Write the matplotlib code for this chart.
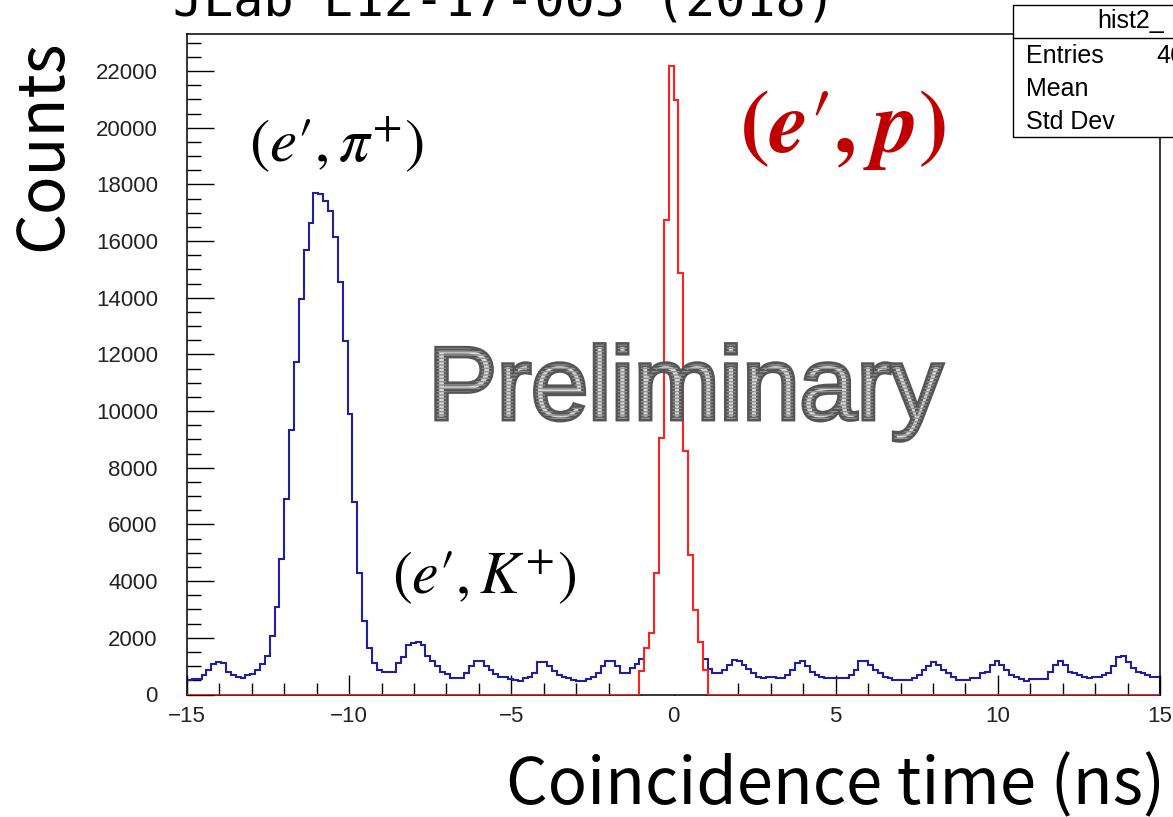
import numpy as np
import matplotlib
matplotlib.use('Agg')
import matplotlib.pyplot as plt
from matplotlib import patheffects as pe
from matplotlib.patches import Rectangle
from matplotlib.lines import Line2D

# binning of the coincidence time histogram (ns)
t_min, t_max, n_bins = -15.0, 15.0, 200

# blue: all coincidences, counts per bin
blue_counts = [
    520, 530, 560, 680, 850, 1070, 1150, 1100, 780, 700,
    620, 590, 700, 720, 850, 1060, 1350, 2060, 3090, 4770,
    6900, 9350, 11740, 13970, 15670, 16650, 17710, 17650, 17410, 17080,
    16150, 14560, 12470, 9900, 6790, 4300, 2590, 1650, 1120, 880,
    810, 810, 810, 1100, 1320, 1760, 1820, 1860, 1730, 1370,
    1165, 990, 810, 715, 570, 570, 570, 770, 990, 1190,
    1190, 1010, 870, 715, 630, 600, 535, 510, 490, 570,
    630, 770, 1130, 1130, 1010, 845, 690, 630, 570, 510,
    490, 490, 535, 630, 770, 1010, 1165, 1165, 990, 760,
    760, 920, 1090, 1240, 1300, 1350, 1400, 1400, 1400, 1400,
    1400, 1400, 1400, 1400, 1350, 1300, 1250, 890, 750, 760,
    870, 1050, 1230, 1170, 1050, 890, 750, 630, 570, 630,
    630, 570, 570, 690, 870, 1110, 1170, 990, 810, 690,
    630, 570, 570, 570, 570, 570, 690, 870, 1170, 1170,
    1050, 870, 750, 630, 570, 510, 510, 510, 510, 570,
    690, 870, 1020, 1130, 1050, 870, 750, 630, 510, 510,
    510, 570, 570, 750, 810, 1050, 1170, 1050, 870, 690,
    630, 540, 490, 540, 540, 540, 540, 810, 1050, 1170,
    1050, 810, 750, 690, 630, 570, 630, 630, 690, 750,
    990, 1320, 1370, 1160, 930, 810, 750, 690, 630, 630,
]

# red: (e',p) selected events, non-empty bins start at bin 93 (t = -1.05 ns)
red_first_bin = 93
red_peak = [820, 1650, 2180, 4300, 9040, 16740, 22180, 20970,
            14880, 8610, 4940, 2965, 1850, 880]

W, H = 1173, 817


def fx(x):
    return x / W


def fy(y):
    return 1 - y / H


edges = np.linspace(t_min, t_max, n_bins + 1)
red_counts = np.zeros(n_bins)
red_counts[red_first_bin:red_first_bin + len(red_peak)] = red_peak

plt.rcParams['mathtext.fontset'] = 'stix'

fig = plt.figure(figsize=(W / 100, H / 100), dpi=100)
ax = fig.add_axes([fx(187), fy(694.5), fx(1160) - fx(187), fy(34.3) - fy(694.5)])

ax.stairs(blue_counts, edges, color='#1f1fa0', lw=1.5, zorder=2.0)
ax.stairs(red_counts, edges, fill=True, color='white', zorder=2.2)
ax.stairs(red_counts, edges, color='#ff2020', lw=1.5, zorder=3)

ax.set_xlim(t_min, t_max)
ax.set_ylim(0, 23300)

ax.set_xticks(np.arange(-15, 16, 5))
ax.set_xticks(np.arange(-15, 16, 1), minor=True)
ax.set_yticks(np.arange(0, 22001, 2000))
ax.set_yticks(np.arange(0, 23300, 500), minor=True)

ax.tick_params(axis='both', which='both', direction='in', top=False, right=False,
               width=1.0, color='black')
ax.tick_params(axis='x', which='major', length=14.4, pad=8)
ax.tick_params(axis='x', which='minor', length=8.6)
ax.tick_params(axis='y', which='major', length=19.4, pad=21)
ax.tick_params(axis='y', which='minor', length=10)
for lab in ax.get_xticklabels() + ax.get_yticklabels():
    lab.set_fontfamily('Liberation Sans')
    lab.set_fontsize(16)
    lab.set_color('#222222')
for s in ax.spines.values():
    s.set_linewidth(1.1)

# axis titles
fig.text(fx(43), fy(145), 'Counts', rotation=90, ha='center', va='center',
         fontsize=46, family='Noto Sans CJK JP')
fig.text(fx(836), fy(804), 'Coincidence time (ns)', ha='center', va='baseline',
         fontsize=47, family='Noto Sans CJK JP')

# title (cut at the top of the picture)
fig.text(fx(504), fy(15), 'JLab E12-17-003 (2018)', ha='center', va='baseline',
         fontsize=36, family='DejaVu Sans Mono')

# peak labels
fig.text(fx(337), fy(145), r"$(e\prime,\pi^{+})$", ha='center', va='center', fontsize=44)
fig.text(fx(484), fy(578), r"$(e\prime,K^{+})$", ha='center', va='center', fontsize=43)
fig.text(fx(842), fy(128),
         r"$\mathbf{(}\mathbfit{e}\prime\mathbf{,}\;\mathbfit{p}\mathbf{)}$",
         ha='center', va='center', fontsize=64, color='#c00000')

# watermark
fig.text(fx(685), fy(419), 'Preliminary', ha='center', va='baseline', fontsize=74,
         family='Liberation Sans', color='#c8c8c8',
         path_effects=[pe.PathPatchEffect(edgecolor='#555555', linewidth=3.5, facecolor='#d8d8d8'),
                       pe.PathPatchEffect(hatch='-----', edgecolor='#909090', facecolor='none',
                                          linewidth=0)])

# stats box (cut at the right edge)
box = Rectangle((fx(1013), fy(137)), fx(1200) - fx(1013), fy(5) - fy(137),
                transform=fig.transFigure, facecolor='white', edgecolor='black',
                lw=1.0, zorder=5)
fig.patches.append(box)
fig.lines.append(Line2D([fx(1013), fx(1200)], [fy(37.7), fy(37.7)],
                        transform=fig.transFigure, color='black', lw=1.0, zorder=6))
stat_font = dict(family='Liberation Sans', fontsize=18, zorder=7, va='center')
fig.text(fx(1097), fy(21), 'hist2_', ha='left', **stat_font)
fig.text(fx(1026), fy(56), 'Entries', ha='left', **stat_font)
fig.text(fx(1026), fy(89), 'Mean', ha='left', **stat_font)
fig.text(fx(1026), fy(122), 'Std Dev', ha='left', **stat_font)
fig.text(fx(1156), fy(56), '46', ha='left', **stat_font)

fig.savefig('out.png', dpi=100)
